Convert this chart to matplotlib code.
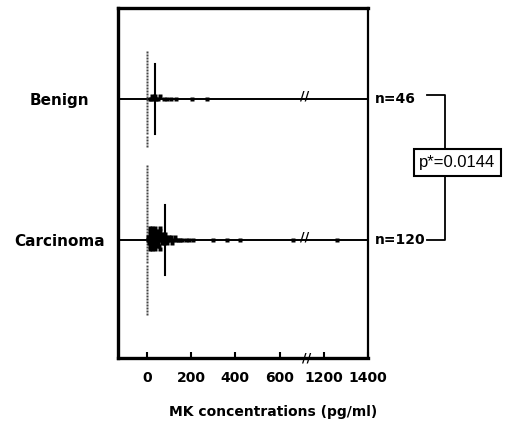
import numpy as np
import matplotlib
matplotlib.use("Agg")
import matplotlib.pyplot as plt

# --- data (pg/ml) ---
groups = ["Benign", "Carcinoma"]
n_labels = ["n=46", "n=120"]
benign_zero_count = 32
benign_values = [15, 20, 25, 30, 35, 40, 50, 60, 75, 90, 110, 130, 205, 270]
carcinoma_zero_count = 50
carcinoma_values = [5, 5, 8, 10, 10, 12, 12, 15, 15, 15, 18, 20, 20, 20, 22,
                    25, 25, 25, 28, 30, 30, 30, 32, 35, 35, 38, 40, 40, 42, 45,
                    45, 48, 50, 50, 52, 55, 55, 58, 60, 60, 62, 65, 68, 70, 72,
                    75, 78, 80, 85, 88, 90, 95, 100, 105, 110, 115, 120, 125, 130, 140,
                    150, 160, 175, 190, 210, 300, 360, 420, 660, 1260]
center_lines = [36, 83]          # vertical bars drawn on each group
tick_values = [0, 200, 400, 600, 1200, 1400]
p_text = "p*=0.0144"

# broken axis: 700..1100 is cut out
BREAK_LO, BREAK_HI = 700, 1100
DY = 0.0213


def to_disp(v):
    return v if v <= BREAK_LO else v - (BREAK_HI - BREAK_LO)


def zero_column(zero_count, y0):
    ys = [y0 + (k - (zero_count - 1) / 2) * DY for k in range(zero_count)]
    return [0] * zero_count, ys


def swarm(values, y0, bw=11):
    xs, ys = [], []
    bins = {}
    for v in values:
        d = to_disp(v)
        b = int(round(d / bw))
        i = bins.get(b, 0)
        bins[b] = i + 1
        off = (i + 1) // 2 * (1 if i % 2 == 1 else -1)
        xs.append(d)
        ys.append(y0 + off * DY)
    return xs, ys


W, H = 506, 432
fig = plt.figure(figsize=(W / 100, H / 100), dpi=100)
ax = fig.add_axes([118 / W, 1 - 358 / H, (368 - 118) / W, (358 - 8) / H])

ypos = [1, 0]
datasets = [(benign_values, benign_zero_count), (carcinoma_values, carcinoma_zero_count)]

for y0, (vals, nz), cl, nl in zip(ypos, datasets, center_lines, n_labels):
    ax.axhline(y0, color="black", lw=1.4, zorder=1)
    zx, zy = zero_column(nz, y0)
    ax.plot(zx, zy, "s", color="#444444", ms=1.6, mec="none", zorder=3)
    xs, ys = swarm(vals, y0)
    ax.plot(xs, ys, "s", color="black", ms=2.8, mec="none", zorder=3)
    ax.plot([to_disp(cl)] * 2, [y0 - 0.245, y0 + 0.245], color="black", lw=1.5, zorder=4)
    ax.text(715, y0 + 0.02, "//", ha="center", va="center", fontsize=9,
            fontweight="bold", zorder=5)
    ax.text(1032, y0, nl, ha="left", va="center", fontsize=10,
            fontweight="bold", clip_on=False)

# break mark on the x axis
ax.text(724, -0.837, "//", ha="center", va="center", fontsize=9,
        fontweight="bold", clip_on=False, zorder=6)

ax.set_xlim(-131, 1000)
ax.set_ylim(-0.837, 1.645)

ax.set_xticks([to_disp(t) for t in tick_values])
ax.set_xticklabels([str(t) for t in tick_values], fontsize=10, fontweight="bold")
ax.tick_params(axis="x", direction="in", length=4, width=1.5, pad=9)

ax.set_yticks(ypos)
ax.set_yticklabels(groups, fontsize=11, fontweight="bold", ha="center")
ax.tick_params(axis="y", length=0, pad=42)

for s in ["left", "top", "bottom"]:
    ax.spines[s].set_linewidth(2.4)
ax.spines["right"].set_linewidth(1.6)

# significance bracket
bx = 1348
ax.plot([1267, bx, bx, 1267], [1.03, 1.03, 0.0, 0.0], color="black", lw=1.3,
        clip_on=False)
ax.text(1405, 0.55, p_text, ha="center", va="center", fontsize=12,
        family="Liberation Sans", clip_on=False,
        bbox=dict(boxstyle="square,pad=0.35", fc="white", ec="black", lw=1.5))

fig.text(273 / W, 1 - 412 / H, "MK concentrations (pg/ml)", ha="center",
         va="center", fontsize=10, fontweight="bold")

fig.savefig("out.png", dpi=100)
